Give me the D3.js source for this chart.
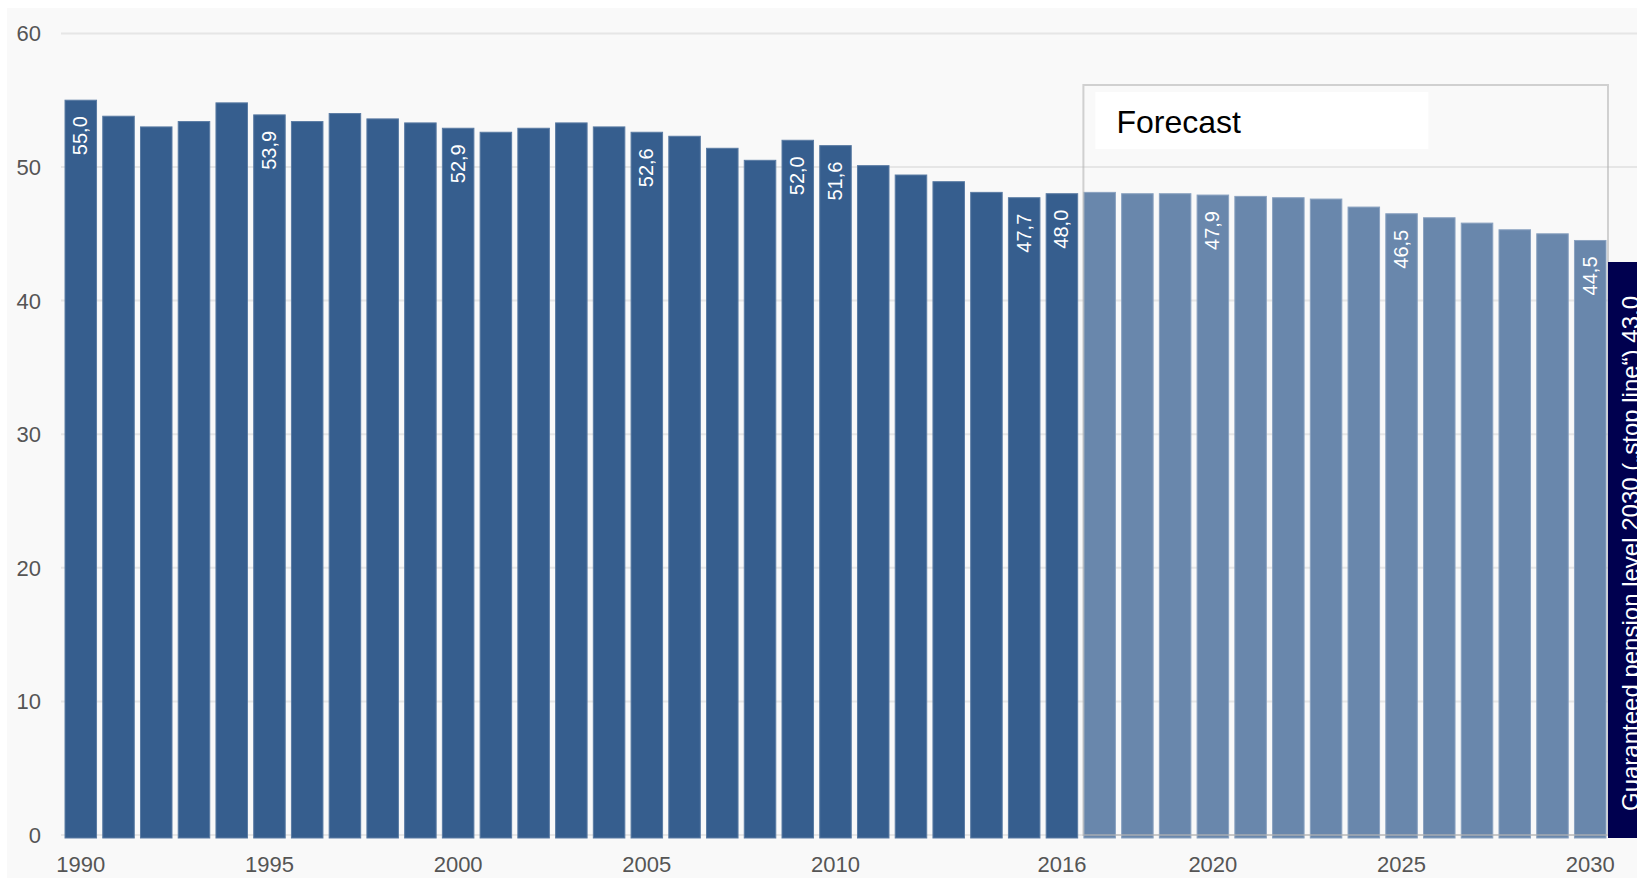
<!DOCTYPE html>
<html lang="en">
	<head>
		<meta charset="utf-8">
		<title>Pension level</title>
		<script src="https://d3js.org/d3.v7.min.js"></script>
		<style>
			body { margin: 0; background: #fff; }
			svg { display: block; font-family: "Liberation Sans", Arial, sans-serif; }
			.tick-label { fill: #555; font-size: 22px; }
			.bar-label { fill: #fff; font-size: 20px; }
		</style>
	</head>

	<body>
		<div id="vis"></div>
	</body>

	<script>
		// values
		var years = [1990, 1991, 1992, 1993, 1994, 1995, 1996, 1997, 1998, 1999,
			2000, 2001, 2002, 2003, 2004, 2005, 2006, 2007, 2008, 2009,
			2010, 2011, 2012, 2013, 2014, 2015, 2016, 2017, 2018, 2019,
			2020, 2021, 2022, 2023, 2024, 2025, 2026, 2027, 2028, 2029, 2030];
		var levels = [55.0, 53.8, 53.0, 53.4, 54.8, 53.9, 53.4, 54.0, 53.6, 53.3,
			52.9, 52.6, 52.9, 53.3, 53.0, 52.6, 52.3, 51.4, 50.5, 52.0,
			51.6, 50.1, 49.4, 48.9, 48.1, 47.7, 48.0, 48.1, 48.0, 48.0,
			47.9, 47.8, 47.7, 47.6, 47.0, 46.5, 46.2, 45.8, 45.3, 45.0, 44.5];
		var labeledYears = [1990, 1995, 2000, 2005, 2009, 2010, 2015, 2016, 2020, 2025, 2030];
		var xTickYears = [1990, 1995, 2000, 2005, 2010, 2016, 2020, 2025, 2030];
		var yTicks = [0, 10, 20, 30, 40, 50, 60];
		var forecastFrom = 2017;
		var forecastTitle = "Forecast";
		var stopLineText = "Guaranteed pension level 2030 (\u201Estop line\u201C) 43,0";

		var width = 1637;
		var height = 878;

		var data = years.map(function(y, i) { return {year: y, value: levels[i]}; });

		var svg = d3.select("#vis").append("svg")
			.attr("width", width)
			.attr("height", height);

		// light panel
		svg.append("rect")
			.attr("x", 7).attr("y", 8)
			.attr("width", width - 7).attr("height", height - 8)
			.attr("fill", "#f9f9f9");

		var x = d3.scaleBand()
			.domain(years)
			.range([62, 1609])
			.paddingInner(0.165)
			.paddingOuter(0.08);

		var y = d3.scaleLinear()
			.domain([0, 60])
			.range([835, 33.4]);

		// gridlines
		svg.append("g").selectAll("line")
			.data(yTicks)
			.enter().append("line")
				.attr("x1", 61)
				.attr("x2", width)
				.attr("y1", function(d) { return y(d); })
				.attr("y2", function(d) { return y(d); })
				.attr("stroke", "#e6e6e6")
				.attr("stroke-width", 2);

		// y labels
		svg.append("g").selectAll("text")
			.data(yTicks)
			.enter().append("text")
				.attr("class", "tick-label")
				.attr("x", 41)
				.attr("y", function(d) { return y(d); })
				.attr("dy", "0.36em")
				.attr("text-anchor", "end")
				.text(function(d) { return d; });

		// bars
		svg.append("g").selectAll("rect")
			.data(data)
			.enter().append("rect")
				.attr("x", function(d) { return x(d.year); })
				.attr("width", x.bandwidth())
				.attr("y", function(d) { return y(d.value); })
				.attr("height", function(d) { return y(0) + 3 - y(d.value); })
				.attr("fill", function(d) { return d.year >= forecastFrom ? "#6987ac" : "#365e8e"; })
				.attr("stroke", function(d) { return d.year >= forecastFrom ? "#8aa2c0" : "#5a7ba3"; })
				.attr("stroke-width", 1);

		// value labels, rotated inside the bars
		svg.append("g").selectAll("text")
			.data(data.filter(function(d) { return labeledYears.indexOf(d.year) >= 0; }))
			.enter().append("text")
				.attr("class", "bar-label")
				.attr("text-anchor", "end")
				.attr("transform", function(d) {
					var cx = x(d.year) + x.bandwidth() / 2 + 6.5;
					return "translate(" + cx + "," + (y(d.value) + 16) + ") rotate(-90)";
				})
				.text(function(d) { return d3.format(".1f")(d.value).replace(".", ","); });

		// x labels
		svg.append("g").selectAll("text")
			.data(xTickYears)
			.enter().append("text")
				.attr("class", "tick-label")
				.attr("x", function(d) { return x(d) + x.bandwidth() / 2; })
				.attr("y", 872)
				.attr("text-anchor", "middle")
				.text(function(d) { return d; });

		// forecast frame
		var fx0 = x(forecastFrom) - 0.5;
		var fx1 = x(2030) + x.bandwidth() + 2;
		svg.append("rect")
			.attr("x", fx0)
			.attr("y", 85)
			.attr("width", fx1 - fx0)
			.attr("height", y(0) - 85)
			.attr("fill", "none")
			.attr("stroke", "#b4b4b4")
			.attr("stroke-opacity", 0.6)
			.attr("stroke-width", 2);

		svg.append("rect")
			.attr("x", fx0 + 12)
			.attr("y", 92)
			.attr("width", 333)
			.attr("height", 57)
			.attr("fill", "#fff");

		svg.append("text")
			.attr("x", fx0 + 33)
			.attr("y", 133)
			.attr("font-size", 32)
			.attr("fill", "#000")
			.text(forecastTitle);

		// stop line box on the right, runs off the page like the original
		svg.append("rect")
			.attr("x", 1608)
			.attr("y", 262)
			.attr("width", 80)
			.attr("height", 838 - 262)
			.attr("fill", "#00004f");

		svg.append("text")
			.attr("transform", "translate(1639,811) rotate(-90)")
			.attr("font-size", 24)
			.attr("fill", "#fff")
			.text(stopLineText);
	</script>
</html>
